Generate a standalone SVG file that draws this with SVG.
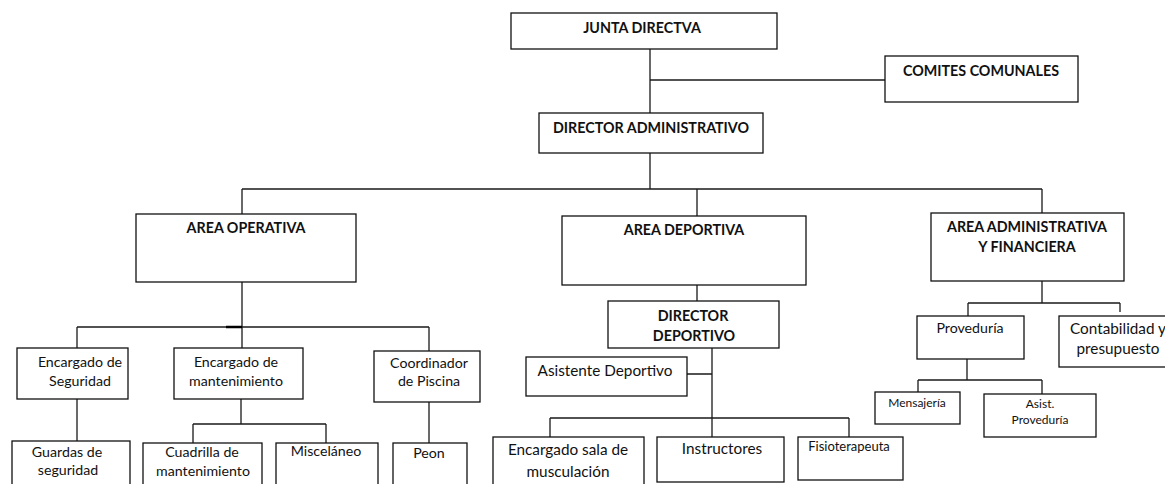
<svg xmlns="http://www.w3.org/2000/svg" width="1165" height="484" viewBox="0 0 1165 484">
  <style>
    .box { fill: #ffffff; stroke: #111111; stroke-width: 1.3; }
    .wire { fill: none; stroke: #1a1a1a; stroke-width: 1.3; }
    .t { font-family: Lato, "Open Sans", "Liberation Sans", sans-serif; fill: #111111; text-anchor: middle; }
    .b { font-weight: bold; font-size: 14.3px; }
    .r { font-size: 14.2px; }
    .l { font-size: 15.3px; }
    .s { font-size: 12px; }
    .m { font-size: 13px; }
  </style>
  <rect width="1165" height="484" fill="#ffffff"/>

  <!-- connectors -->
  <g id="connectors">
    <path class="wire" d="M650 49 V153 M650 80 H885"/>
    <path class="wire" d="M650 153 V189 M242 189 H1042 M242 189 V214 M697 189 V216 M1042 189 V213"/>
    <!-- operative area -->
    <path class="wire" d="M242 282 V348 M77 327 H429 M77 327 V348 M429 327 V351"/>
    <path d="M226 327 H242" stroke="#000" stroke-width="2.5"/>
    <path class="wire" d="M77 399 V441 M241 399 V424 M193 424 H326 M193 424 V443 M326 424 V443 M429 402 V443"/>
    <!-- sports area -->
    <path class="wire" d="M697 285 V301 M712 348 V437 M687 374 H712 M550 418 H849 M550 418 V437 M849 418 V437"/>
    <!-- administration and finance -->
    <path class="wire" d="M1042 281 V303 M968 303 H1120 M968 303 V316 M1120 303 V312"/>
    <path class="wire" d="M967 359 V380 M918 380 H1042 M918 380 V392 M1042 380 V394"/>
  </g>

  <g id="junta">
    <rect class="box" x="511" y="13" width="266" height="36"/>
    <text class="t b" x="642" y="33">JUNTA DIRECTVA</text>
  </g>
  <g id="comites">
    <rect class="box" x="885" y="56" width="193" height="46"/>
    <text class="t b" x="981" y="76">COMITES COMUNALES</text>
  </g>
  <g id="director-admin">
    <rect class="box" x="539" y="113" width="224" height="40"/>
    <text class="t b" x="651" y="133">DIRECTOR ADMINISTRATIVO</text>
  </g>

  <g id="area-operativa">
    <rect class="box" x="136" y="214" width="220" height="68"/>
    <text class="t b" x="246" y="233">AREA OPERATIVA</text>
  </g>
  <g id="area-deportiva">
    <rect class="box" x="562" y="216" width="244" height="69"/>
    <text class="t b" x="684" y="235">AREA DEPORTIVA</text>
  </g>
  <g id="area-admin">
    <rect class="box" x="931" y="213" width="193" height="68"/>
    <text class="t b" x="1027" y="232">AREA ADMINISTRATIVA</text>
    <text class="t b" x="1027" y="252">Y FINANCIERA</text>
  </g>

  <g id="enc-seguridad">
    <rect class="box" x="17" y="348" width="111" height="51"/>
    <text class="t r" x="80" y="367">Encargado de</text>
    <text class="t r" x="80" y="386">Seguridad</text>
  </g>
  <g id="enc-mantenimiento">
    <rect class="box" x="174" y="348" width="129" height="51"/>
    <text class="t r" x="236" y="367">Encargado de</text>
    <text class="t r" x="236" y="386">mantenimiento</text>
  </g>
  <g id="coord-piscina">
    <rect class="box" x="374" y="351" width="106" height="51"/>
    <text class="t r" x="429" y="368">Coordinador</text>
    <text class="t r" x="429" y="386">de Piscina</text>
  </g>
  <g id="guardas">
    <rect class="box" x="12" y="441" width="118" height="50"/>
    <text class="t r" x="67" y="457">Guardas de</text>
    <text class="t r" x="68" y="475">seguridad</text>
  </g>
  <g id="cuadrilla">
    <rect class="box" x="143" y="443" width="119" height="50"/>
    <text class="t r" x="202" y="457">Cuadrilla de</text>
    <text class="t r" x="203" y="476">mantenimiento</text>
  </g>
  <g id="miscelaneo">
    <rect class="box" x="276" y="443" width="102" height="50"/>
    <text class="t r" x="326" y="456">Misceláneo</text>
  </g>
  <g id="peon">
    <rect class="box" x="393" y="443" width="74" height="50"/>
    <text class="t r" x="429" y="458">Peon</text>
  </g>

  <g id="director-deportivo">
    <rect class="box" x="608" y="301" width="171" height="47"/>
    <text class="t b" x="693" y="321">DIRECTOR</text>
    <text class="t b" x="694" y="341">DEPORTIVO</text>
  </g>
  <g id="asistente-deportivo">
    <rect class="box" x="526" y="357" width="161" height="39"/>
    <text class="t l" x="605" y="376">Asistente Deportivo</text>
  </g>
  <g id="sala-musculacion">
    <rect class="box" x="493" y="437" width="151" height="56"/>
    <text class="t l" x="568" y="455">Encargado sala de</text>
    <text class="t l" x="568" y="477">musculación</text>
  </g>
  <g id="instructores">
    <rect class="box" x="657" y="437" width="127" height="45"/>
    <text class="t l" x="722" y="454">Instructores</text>
  </g>
  <g id="fisioterapeuta">
    <rect class="box" x="798" y="437" width="105" height="43"/>
    <text class="t m" x="849" y="451">Fisioterapeuta</text>
  </g>

  <g id="proveduria">
    <rect class="box" x="917" y="316" width="107" height="43"/>
    <text class="t r" x="970" y="333">Proveduría</text>
  </g>
  <g id="contabilidad">
    <rect class="box" x="1059" y="316" width="118" height="51"/>
    <text class="t l" x="1118" y="334">Contabilidad y</text>
    <text class="t l" x="1118" y="354">presupuesto</text>
  </g>
  <g id="mensajeria">
    <rect class="box" x="875" y="392" width="85" height="32"/>
    <text class="t s" x="917" y="407">Mensajería</text>
  </g>
  <g id="asist-proveduria">
    <rect class="box" x="984" y="394" width="112" height="43"/>
    <text class="t s" x="1040" y="408">Asist.</text>
    <text class="t s" x="1040" y="424">Proveduría</text>
  </g>
</svg>
